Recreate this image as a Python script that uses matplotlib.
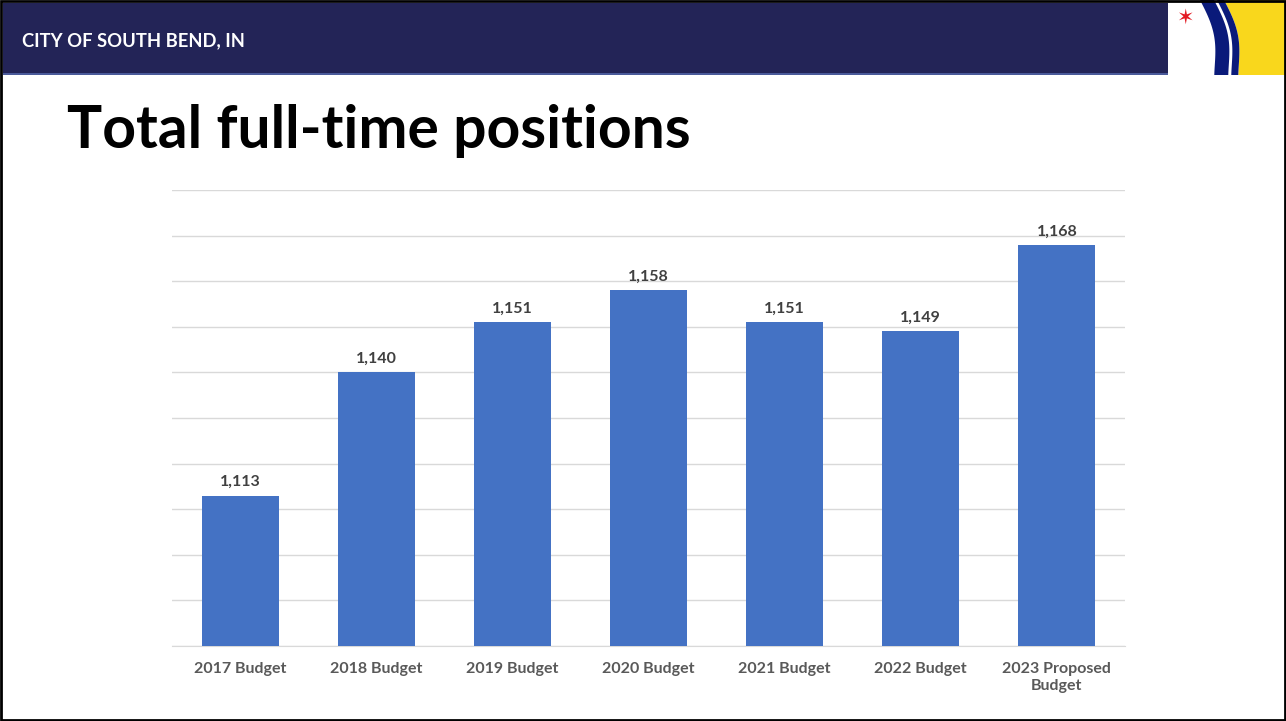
import matplotlib
matplotlib.use("Agg")
import matplotlib.pyplot as plt
from matplotlib.patches import Rectangle, Polygon
import numpy as np

categories = ["2017 Budget", "2018 Budget", "2019 Budget", "2020 Budget",
              "2021 Budget", "2022 Budget", "2023 Proposed\nBudget"]
positions = [1113, 1140, 1151, 1158, 1151, 1149, 1168]
y_min, y_max, y_step = 1080, 1180, 10

W, H = 1286, 721
fig = plt.figure(figsize=(W / 100, H / 100), dpi=100)
plt.rcParams['font.family'] = ['Lato', 'DejaVu Sans']

def fx(x):
    return x / W

def fy(y):
    return 1 - y / H

# header band
fig.patches.append(Rectangle((fx(3), fy(73)), fx(1168 - 3), 70 / H, transform=fig.transFigure,
                             facecolor="#232457", edgecolor="none", zorder=1))
fig.patches.append(Rectangle((fx(3), fy(75)), fx(1168 - 3), 2 / H, transform=fig.transFigure,
                             facecolor="#4a5a9a", edgecolor="none", zorder=1))
fig.text(fx(22), fy(41), "CITY OF SOUTH BEND, IN", color="white", fontsize=13.2,
         fontweight="bold", va="center", ha="left")

# logo
fig.patches.append(Rectangle((fx(1168), fy(75)), fx(W - 1168), 75 / H, transform=fig.transFigure,
                             facecolor="white", edgecolor="none", zorder=1))
ys = np.linspace(0, 75, 80)
c = 1200 + 17 * (ys / 75) + 6 * np.sin(np.pi * ys / 75 * 1.15)
def band(x0, x1, color):
    pts = [(fx(a), fy(b)) for a, b in zip(x0, ys)] + [(fx(a), fy(b)) for a, b in zip(x1[::-1], ys[::-1])]
    fig.patches.append(Polygon(pts, closed=True, transform=fig.transFigure,
                               facecolor=color, edgecolor="none", zorder=2))
band(c + 24, np.full_like(c, W), "#F9D71C")
band(c, c + 24, "#0A1A7A")
band(c + 14, c + 17, "white")
fig.text(fx(1185), fy(18), "\u2736", color="#E31B23", fontsize=15, ha="center", va="center",
         family=["DejaVu Sans"])

# title
fig.text(fx(67), fy(131), "Total full-time positions", color="black", fontsize=42.3,
         fontweight="bold", va="center", ha="left")

# chart
ax = fig.add_axes([fx(172), fy(646), fx(1125 - 172), (646 - 190) / H])
x = np.arange(len(categories))
bars = ax.bar(x, positions, width=0.566, color="#4472C4", zorder=3)
ax.set_ylim(y_min, y_max)
ax.set_xlim(-0.5, len(categories) - 0.5)
ax.set_yticks(np.arange(y_min, y_max + 1, y_step))
ax.yaxis.grid(True, color="#D9D9D9", linewidth=1)
ax.set_axisbelow(True)
ax.tick_params(axis="y", left=False, labelleft=False)
ax.tick_params(axis="x", bottom=False, pad=8)
ax.set_xticks(x)
ax.set_xticklabels(categories, fontsize=11.5, fontweight="bold", color="#595959",
                   linespacing=1.3, va="top")
for s in ["top", "right", "left"]:
    ax.spines[s].set_visible(False)
ax.spines["bottom"].set_color("#D9D9D9")
for xi, v in zip(x, positions):
    ax.annotate(f"{v:,}", (xi, v), xytext=(0, 4.5), textcoords="offset points",
                ha="center", va="bottom", fontsize=11.5, fontweight="bold", color="#404040")

# frame
fig.patches.append(Rectangle((0.001, 0.001), 0.998, 0.997, transform=fig.transFigure,
                             facecolor="none", edgecolor="black", linewidth=2, zorder=10))

fig.savefig("out.png", dpi=100)
